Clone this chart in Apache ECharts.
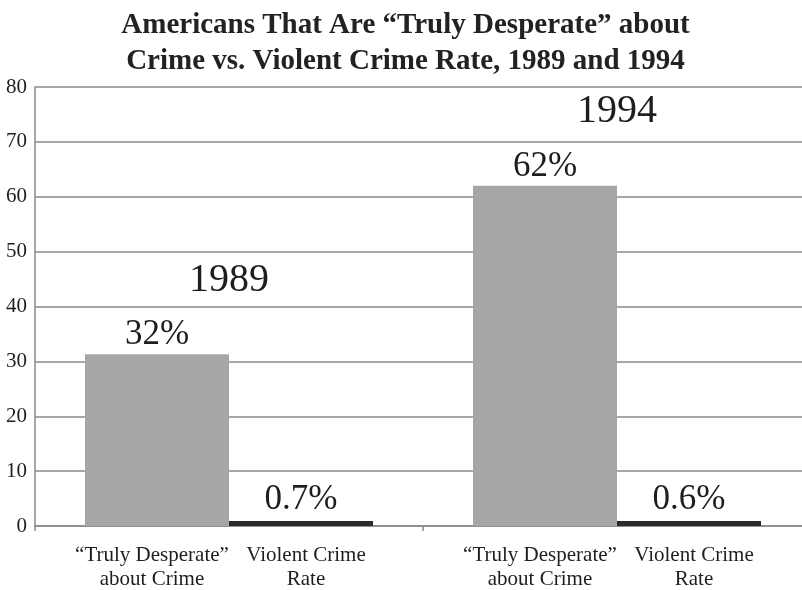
<!DOCTYPE html>
<html>
<head>
<meta charset="utf-8">
<script src="https://cdn.jsdelivr.net/npm/echarts@6/dist/echarts.min.js"></script>
<style>
html,body{margin:0;padding:0;background:#fff;overflow:hidden;width:802px;height:590px;}
#chart{width:811px;height:590px;}
</style>
</head>
<body>
<div id="chart"></div>
<script>
// ---- data ----
const years = ['1989', '1994'];
const desperateValues = [31.3, 62];
const violentRateValues = [0.7, 0.6];
const desperateLabels = ['32%', '62%'];
const violentRateLabels = ['0.7%', '0.6%'];
const barNamesLine1 = ['\u201CTruly Desperate\u201D', 'Violent Crime'];
const barNamesLine2 = ['about Crime', 'Rate'];
const titleLines = ['Americans That Are \u201CTruly Desperate\u201D about', 'Crime vs. Violent Crime Rate, 1989 and 1994'];

const FONT = '"Liberation Serif", "DejaVu Serif", serif';
const BAR_W = 144;

const chart = echarts.init(document.getElementById('chart'), null, {renderer: 'canvas'});

const catText = {fontFamily: FONT, fontSize: 21, lineHeight: 24, color: '#1e1e1e'};

const option = {
  backgroundColor: '#ffffff',
  animation: false,
  title: {
    text: titleLines.join('\n'),
    left: 'center',
    top: 3,
    textStyle: {
      fontFamily: FONT,
      fontSize: 29,
      fontWeight: 'bold',
      color: '#222222',
      lineHeight: 36
    }
  },
  grid: {
    left: 35,
    top: 87,
    right: 0,
    height: 439,
    containLabel: false
  },
  xAxis: {
    type: 'category',
    data: years,
    axisLine: {show: true, lineStyle: {color: '#8a8a8a', width: 1.5}},
    axisTick: {show: true, length: 5, lineStyle: {color: '#8a8a8a', width: 1.5}},
    axisLabel: {
      margin: 17,
      formatter: function () {
        return '{a|' + barNamesLine1[0] + '}{g| }{b|' + barNamesLine1[1] + '}\n' +
               '{a|' + barNamesLine2[0] + '}{g| }{b|' + barNamesLine2[1] + '}';
      },
      rich: {
        a: Object.assign({width: BAR_W, align: 'center'}, catText),
        g: Object.assign({width: 10}, catText),
        b: Object.assign({width: BAR_W, align: 'center'}, catText)
      }
    }
  },
  yAxis: {
    type: 'value',
    min: 0,
    max: 80,
    interval: 10,
    axisLine: {show: true, lineStyle: {color: '#8a8a8a', width: 1.5}},
    axisTick: {show: false},
    axisLabel: {
      margin: 8,
      fontFamily: FONT,
      fontSize: 21,
      color: '#1e1e1e'
    },
    splitLine: {show: true, lineStyle: {color: '#8a8a8a', width: 1.5}}
  },
  series: [
    {
      name: 'Truly Desperate about Crime',
      type: 'bar',
      data: desperateValues,
      barWidth: BAR_W,
      barGap: '0%',
      itemStyle: {color: '#a6a6a6'},
      label: {
        show: true,
        position: 'top',
        distance: 1,
        formatter: function (p) {
          return '{sp| }{y|' + years[p.dataIndex] + '}\n{v|' + desperateLabels[p.dataIndex] + '}';
        },
        rich: {
          sp: {width: BAR_W, fontSize: 40, lineHeight: 74, fontFamily: FONT},
          y: {width: BAR_W, align: 'center', fontFamily: FONT, fontSize: 40, lineHeight: 74, color: '#1e1e1e'},
          v: {fontFamily: FONT, fontSize: 35, lineHeight: 36, color: '#1e1e1e'}
        }
      }
    },
    {
      name: 'Violent Crime Rate',
      type: 'bar',
      data: violentRateValues,
      barWidth: BAR_W,
      barGap: '0%',
      barMinHeight: 5,
      itemStyle: {color: '#2b2b2b'},
      label: {
        show: true,
        position: 'top',
        distance: 3,
        formatter: function (p) {
          return violentRateLabels[p.dataIndex];
        },
        fontFamily: FONT,
        fontSize: 35,
        lineHeight: 36,
        color: '#1e1e1e'
      }
    }
  ]
};

chart.setOption(option);
</script>
</body>
</html>
